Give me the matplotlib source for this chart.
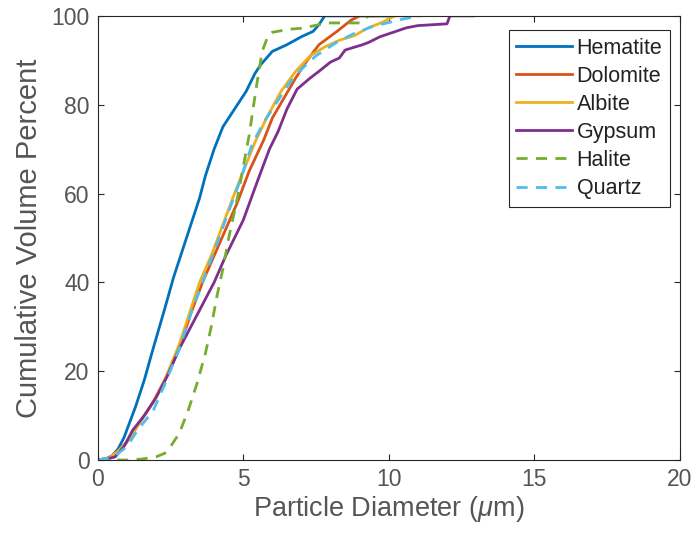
import numpy as np
import matplotlib
matplotlib.use('Agg')
from matplotlib import pyplot as plt

plt.rcParams['font.family'] = ['Liberation Sans', 'DejaVu Sans']
plt.rcParams['mathtext.fontset'] = 'custom'
plt.rcParams['mathtext.it'] = 'Liberation Sans:italic'
plt.rcParams['mathtext.rm'] = 'Liberation Sans'

# values (diameter in um, cumulative volume %)
hematite_x = [0, 0.3, 0.5, 0.7, 0.9, 1.3, 1.6, 1.9, 2.3, 2.6, 2.9, 3.2, 3.5, 3.7, 4.0, 4.3, 4.7, 5.1, 5.4, 5.6, 6.0, 6.5, 7.0, 7.4, 7.6, 7.8, 10.0]
hematite_y = [0, 0.3, 1, 2.5, 5, 12, 18, 25, 34, 41, 47, 53, 59, 64, 70, 75, 79, 83, 87, 89, 92, 93.5, 95.3, 96.5, 98, 100, 100]

dolomite_x = [0, 0.4, 0.7, 1.0, 1.4, 1.9, 2.3, 2.8, 3.2, 3.6, 4.0, 4.4, 4.8, 5.2, 5.7, 6.0, 6.4, 6.8, 7.2, 7.6, 8.2, 8.7, 9.0, 10.0]
dolomite_y = [0, 0.5, 2, 4, 8, 13, 18, 25, 33, 40, 46, 52, 58, 65, 72, 77, 81.5, 86, 90, 93.5, 96.4, 99, 100, 100]

albite_x = [0, 0.4, 0.7, 1.0, 1.4, 1.9, 2.3, 2.8, 3.2, 3.5, 3.9, 4.3, 4.7, 5.0, 5.4, 5.8, 6.3, 6.8, 7.3, 7.8, 8.3, 8.8, 9.3, 9.8, 10.2, 11.0]
albite_y = [0, 0.5, 2, 4, 8, 13, 18, 26, 34, 40, 46, 53, 60, 65, 71.5, 77, 83, 87.5, 91, 93, 94.5, 95.5, 97.3, 98.6, 100, 100]

gypsum_x = [0, 0.3, 0.6, 0.9, 1.2, 1.6, 2.0, 2.4, 2.8, 3.2, 3.6, 4.0, 4.4, 5.0, 5.5, 5.9, 6.2, 6.5, 6.85, 7.3, 7.6, 8.0, 8.3, 8.5, 9.1, 9.3, 9.7, 10.2, 10.6, 11.0, 12.0, 12.1, 12.9]
gypsum_y = [0, 0.2, 0.7, 3, 6.7, 10, 14, 19, 25, 30, 35, 40, 46, 54, 63, 70, 74, 79, 83.5, 86, 87.5, 89.6, 90.5, 92.3, 93.5, 94, 95.3, 96.4, 97.3, 97.8, 98.2, 100, 100]

halite_x = [0, 1.0, 1.5, 2.0, 2.3, 2.5, 2.8, 3.1, 3.4, 3.7, 3.9, 4.1, 4.3, 4.5, 4.8, 5.0, 5.2, 5.45, 5.65, 5.85, 6.0, 6.6, 7.0, 7.9, 9.0, 9.3, 10.5]
halite_y = [0, 0, 0.2, 0.7, 1.5, 3, 6, 11, 17, 24, 30, 37, 43, 50, 59, 66, 73, 84, 92, 95.5, 96.3, 97, 97.2, 98.4, 98.4, 100, 100]

quartz_x = [0, 0.3, 0.6, 1.0, 1.4, 1.9, 2.3, 2.8, 3.2, 3.6, 4.0, 4.5, 4.9, 5.3, 5.7, 6.2, 6.6, 7.0, 7.5, 8.2, 8.8, 9.4, 10.0, 10.5, 11.1]
quartz_y = [0, 0.3, 1, 3, 7, 11, 17, 25, 33, 40, 47, 56, 63, 71, 76, 81, 85, 88, 91, 94, 96, 97.5, 98.5, 99.3, 100]

series = [
    ('Hematite', hematite_x, hematite_y, '#0072BD', '-'),
    ('Dolomite', dolomite_x, dolomite_y, '#D95319', '-'),
    ('Albite', albite_x, albite_y, '#EDB120', '-'),
    ('Gypsum', gypsum_x, gypsum_y, '#7E2F8E', '-'),
    ('Halite', halite_x, halite_y, '#77AC30', '--'),
    ('Quartz', quartz_x, quartz_y, '#4DBEEE', '--'),
]

txt = '#555555'
fig = plt.figure(figsize=(6.98, 5.46), dpi=100)
ax = fig.add_axes([0.140, 0.1575, 0.834, 0.8135])

for name, xs, ys, col, ls in series:
    ax.plot(xs, ys, ls, color=col, lw=2.0, label=name, dashes=(4, 3) if ls == '--' else (None, None))

ax.set_xlim(0, 20)
ax.set_ylim(0, 100)
ax.set_xticks([0, 5, 10, 15, 20])
ax.set_yticks([0, 20, 40, 60, 80, 100])
ax.tick_params(direction='in', top=True, right=True, labelsize=16.5, colors='#262626',
               labelcolor=txt, length=4, pad=6)
for s in ax.spines.values():
    s.set_color('#262626')
    s.set_linewidth(0.8)
ax.set_xlabel(r'Particle Diameter ($\mu$m)', fontsize=19.5, color=txt, labelpad=2)
ax.set_ylabel('Cumulative Volume Percent', fontsize=21, color=txt, labelpad=6)

leg = ax.legend(loc='upper right', fontsize=15.5, handlelength=2.6, handletextpad=0.2,
                borderpad=0.35, labelspacing=0.33, borderaxespad=0, fancybox=False,
                framealpha=1, edgecolor='#262626', bbox_to_anchor=(0.983, 0.968))
leg.get_frame().set_linewidth(0.8)
for t in leg.get_texts():
    t.set_color('#222222')

fig.savefig('out.png', dpi=100)
